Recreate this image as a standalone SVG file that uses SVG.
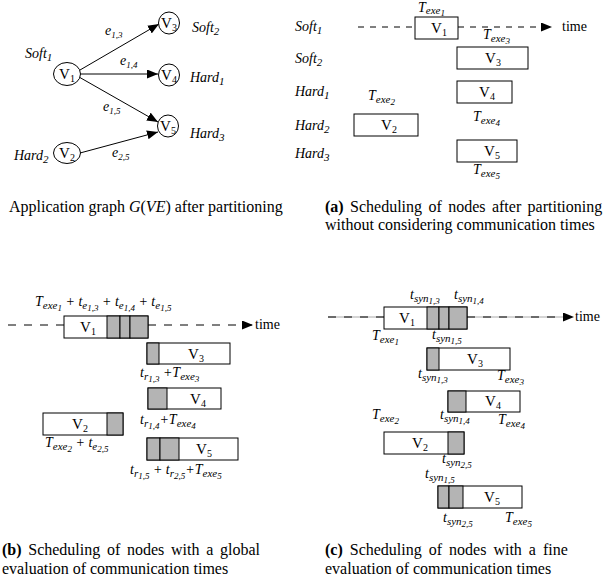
<svg xmlns="http://www.w3.org/2000/svg" width="603" height="588" viewBox="0 0 603 588">
<style>
text{font-family:"Liberation Serif","Times New Roman",serif;fill:#000}
.l{font-style:italic;font-size:14px}
.s{font-size:11px}
.ss{font-size:9px}
.v{font-size:15px;text-anchor:middle}
.vs{font-size:10px}
.cap{font-size:16px}
.tm{font-size:14px}
.b{font-weight:bold}
.nd{fill:#fff;stroke:#000;stroke-width:1}
.bx{fill:#fff;stroke:#000;stroke-width:1}
.gr{fill:#b4b4b4;stroke:#000;stroke-width:1}
.ed{stroke:#000;stroke-width:1;fill:none}
.da{stroke:#000;stroke-width:1;fill:none;stroke-dasharray:6 6}
.db{stroke:#000;stroke-width:1;fill:none;stroke-dasharray:8 8}
.gl{stroke:#aaa;stroke-width:1;fill:none}
</style>
<defs>
<marker id="ah" viewBox="0 0 11 9" refX="11" refY="4.5" markerWidth="11" markerHeight="9" markerUnits="userSpaceOnUse" orient="auto"><path d="M0,0L11,4.5L0,9z" fill="#000"/></marker>
</defs>

<!-- Application graph -->
<g id="connectors">
<line class="ed" x1="80" y1="70" x2="159" y2="24" marker-end="url(#ah)"/>
<line class="ed" x1="80" y1="74" x2="158" y2="74" marker-end="url(#ah)"/>
<line class="ed" x1="79" y1="77" x2="158" y2="122" marker-end="url(#ah)"/>
<line class="ed" x1="80" y1="153" x2="158" y2="132" marker-end="url(#ah)"/>
<text class="l" x="105" y="35">e<tspan class="ss" dy="3">1,3</tspan></text>
<text class="l" x="120" y="65">e<tspan class="ss" dy="3">1,4</tspan></text>
<text class="l" x="103" y="111">e<tspan class="ss" dy="3">1,5</tspan></text>
<text class="l" x="112" y="157">e<tspan class="ss" dy="3">2,5</tspan></text>
</g>
<g id="nV1"><ellipse class="nd" cx="67" cy="74" rx="13.5" ry="11.5"/><text class="v" x="67" y="79">V<tspan class="vs" dy="3">1</tspan></text><text class="l" x="25" y="58">Soft<tspan class="s" dy="3">1</tspan></text></g>
<g id="nV2"><ellipse class="nd" cx="67" cy="153" rx="13.5" ry="10.5"/><text class="v" x="67" y="158">V<tspan class="vs" dy="3">2</tspan></text><text class="l" x="14" y="160">Hard<tspan class="s" dy="3">2</tspan></text></g>
<g id="nV3"><ellipse class="nd" cx="169" cy="23" rx="10.5" ry="11"/><text class="v" x="169" y="28">V<tspan class="vs" dy="3">3</tspan></text><text class="l" x="192" y="32">Soft<tspan class="s" dy="3">2</tspan></text></g>
<g id="nV4"><ellipse class="nd" cx="169" cy="75" rx="10.5" ry="11"/><text class="v" x="169" y="80">V<tspan class="vs" dy="3">4</tspan></text><text class="l" x="190" y="82">Hard<tspan class="s" dy="3">1</tspan></text></g>
<g id="nV5"><ellipse class="nd" cx="168" cy="126" rx="10.5" ry="11"/><text class="v" x="168" y="131">V<tspan class="vs" dy="3">5</tspan></text><text class="l" x="190" y="138">Hard<tspan class="s" dy="3">3</tspan></text></g>
<text class="cap" x="9" y="212">Application graph <tspan font-style="italic">G</tspan>(<tspan font-style="italic">VE</tspan>) after partitioning</text>

<!-- Panel (a) -->
<g id="panelA">
<text class="l" x="295" y="31">Soft<tspan class="s" dy="3">1</tspan></text>
<text class="l" x="295" y="63">Soft<tspan class="s" dy="3">2</tspan></text>
<text class="l" x="295" y="96">Hard<tspan class="s" dy="3">1</tspan></text>
<text class="l" x="295" y="130">Hard<tspan class="s" dy="3">2</tspan></text>
<text class="l" x="295" y="158">Hard<tspan class="s" dy="3">3</tspan></text>
<line class="da" x1="358" y1="27" x2="415" y2="27"/>
<line class="da" x1="458" y1="27" x2="552" y2="27" marker-end="url(#ah)"/>
<text class="tm" x="562" y="31">time</text>
<g id="aV1"><rect class="bx" x="415" y="17" width="43" height="22"/><text class="v" x="439" y="33">V<tspan class="vs" dy="3">1</tspan></text><text class="l" x="418" y="11.5">T<tspan class="s" dy="2.5">exe</tspan><tspan class="ss" dy="1.5">1</tspan></text></g>
<g id="aV3"><rect class="bx" x="457" y="47" width="71" height="22"/><text class="v" x="493" y="63">V<tspan class="vs" dy="3">3</tspan></text><text class="l" x="483" y="39">T<tspan class="s" dy="3">exe</tspan><tspan class="ss" dy="2">3</tspan></text></g>
<g id="aV4"><rect class="bx" x="457" y="81" width="55" height="22"/><text class="v" x="487" y="97">V<tspan class="vs" dy="3">4</tspan></text><text class="l" x="473" y="121">T<tspan class="s" dy="3">exe</tspan><tspan class="ss" dy="2">4</tspan></text></g>
<g id="aV2"><rect class="bx" x="354" y="114" width="64" height="22"/><text class="v" x="389" y="130">V<tspan class="vs" dy="3">2</tspan></text><text class="l" x="368" y="100">T<tspan class="s" dy="3">exe</tspan><tspan class="ss" dy="2">2</tspan></text></g>
<g id="aV5"><rect class="bx" x="457" y="140" width="60" height="22"/><text class="v" x="492" y="156">V<tspan class="vs" dy="3">5</tspan></text><text class="l" x="473" y="174">T<tspan class="s" dy="3">exe</tspan><tspan class="ss" dy="2">5</tspan></text></g>
<text class="cap" x="325" y="212" word-spacing="2.4"><tspan class="b">(a)</tspan> Scheduling of nodes after partitioning</text>
<text class="cap" x="325" y="230">without considering communication times</text>
</g>

<!-- Panel (b) -->
<g id="panelB">
<text class="l" x="35" y="306">T<tspan class="s" dy="3">exe</tspan><tspan class="ss" dy="2">1</tspan><tspan dy="-5"> + t</tspan><tspan class="s" dy="3">e</tspan><tspan class="ss" dy="2">1,3</tspan><tspan dy="-5"> + t</tspan><tspan class="s" dy="3">e</tspan><tspan class="ss" dy="2">1,4</tspan><tspan dy="-5"> + t</tspan><tspan class="s" dy="3">e</tspan><tspan class="ss" dy="2">1,5</tspan></text>
<line class="db" x1="8" y1="325" x2="64" y2="325"/>
<line class="db" x1="148" y1="325" x2="253" y2="325" marker-end="url(#ah)"/>
<text class="tm" x="255" y="329">time</text>
<g id="bV1"><rect class="bx" x="64" y="316" width="84" height="22"/><rect class="gr" x="107" y="316" width="13" height="22"/><rect class="gr" x="120" y="316" width="10" height="22"/><rect class="gr" x="130" y="316" width="18" height="22"/><text class="v" x="88" y="332">V<tspan class="vs" dy="3">1</tspan></text></g>
<g id="bV3"><rect class="bx" x="147" y="343" width="83" height="21"/><rect class="gr" x="147" y="343" width="12" height="21"/><text class="v" x="196" y="359">V<tspan class="vs" dy="3">3</tspan></text><text class="l" x="140" y="377">t<tspan class="s" dy="3">r</tspan><tspan class="ss" dy="2">1,3</tspan><tspan dy="-5"> +T</tspan><tspan class="s" dy="3">exe</tspan><tspan class="ss" dy="2">3</tspan></text></g>
<g id="bV4"><rect class="bx" x="148" y="388" width="73" height="21"/><rect class="gr" x="148" y="388" width="19" height="21"/><text class="v" x="198" y="404">V<tspan class="vs" dy="3">4</tspan></text><text class="l" x="140" y="424">t<tspan class="s" dy="3">r</tspan><tspan class="ss" dy="2">1,4</tspan><tspan dy="-5">+T</tspan><tspan class="s" dy="3">exe</tspan><tspan class="ss" dy="2">4</tspan></text></g>
<g id="bV2"><rect class="bx" x="43" y="413" width="80" height="22"/><rect class="gr" x="107" y="413" width="16" height="22"/><text class="v" x="80" y="429">V<tspan class="vs" dy="3">2</tspan></text><text class="l" x="45" y="447">T<tspan class="s" dy="3">exe</tspan><tspan class="ss" dy="2">2</tspan><tspan dy="-5"> + t</tspan><tspan class="s" dy="3">e</tspan><tspan class="ss" dy="2">2,5</tspan></text></g>
<g id="bV5"><rect class="bx" x="147" y="438" width="91" height="22"/><rect class="gr" x="147" y="438" width="13" height="22"/><rect class="gr" x="160" y="438" width="19" height="22"/><text class="v" x="204" y="454">V<tspan class="vs" dy="3">5</tspan></text><text class="l" x="130" y="474">t<tspan class="s" dy="3">r</tspan><tspan class="ss" dy="2">1,5</tspan><tspan dy="-5"> + t</tspan><tspan class="s" dy="3">r</tspan><tspan class="ss" dy="2">2,5</tspan><tspan dy="-5">+T</tspan><tspan class="s" dy="3">exe</tspan><tspan class="ss" dy="2">5</tspan></text></g>
<text class="cap" x="2" y="555" word-spacing="2.7"><tspan class="b">(b)</tspan> Scheduling of nodes with a global</text>
<text class="cap" x="2" y="574">evaluation of communication times</text>
</g>

<!-- Panel (c) -->
<g id="panelC">
<line class="gl" x1="328" y1="317" x2="567" y2="317"/>
<line class="db" x1="328" y1="317" x2="384" y2="317"/>
<line class="db" x1="467" y1="317" x2="574" y2="317" marker-end="url(#ah)"/>
<text class="tm" x="575" y="321">time</text>
<g id="cV1"><rect class="bx" x="384" y="307" width="83" height="22"/><rect class="gr" x="427" y="307" width="12" height="22"/><rect class="gr" x="439" y="307" width="10" height="22"/><rect class="gr" x="449" y="307" width="18" height="22"/><text class="v" x="407" y="323">V<tspan class="vs" dy="3">1</tspan></text>
<text class="l" x="410" y="299">t<tspan class="s" dy="3">syn</tspan><tspan class="ss" dy="2">1,3</tspan></text>
<text class="l" x="454" y="299">t<tspan class="s" dy="3">syn</tspan><tspan class="ss" dy="2">1,4</tspan></text>
<text class="l" x="372" y="340">T<tspan class="s" dy="3">exe</tspan><tspan class="ss" dy="2">1</tspan></text>
<text class="l" x="432" y="339">t<tspan class="s" dy="3">syn</tspan><tspan class="ss" dy="2">1,5</tspan></text></g>
<g id="cV3"><rect class="bx" x="427" y="348" width="83" height="22"/><rect class="gr" x="427" y="348" width="12" height="22"/><text class="v" x="475" y="364">V<tspan class="vs" dy="3">3</tspan></text>
<text class="l" x="418" y="378">t<tspan class="s" dy="3">syn</tspan><tspan class="ss" dy="2">1,3</tspan></text>
<text class="l" x="497" y="380">T<tspan class="s" dy="3">exe</tspan><tspan class="ss" dy="2">3</tspan></text></g>
<g id="cV4"><rect class="bx" x="448" y="391" width="72" height="21"/><rect class="gr" x="448" y="391" width="18" height="21"/><text class="v" x="493" y="406">V<tspan class="vs" dy="3">4</tspan></text>
<text class="l" x="440" y="419">t<tspan class="s" dy="3">syn</tspan><tspan class="ss" dy="2">1,4</tspan></text>
<text class="l" x="498" y="424">T<tspan class="s" dy="3">exe</tspan><tspan class="ss" dy="2">4</tspan></text></g>
<g id="cV2"><rect class="bx" x="384" y="432" width="80" height="22"/><rect class="gr" x="448" y="432" width="16" height="22"/><text class="v" x="420" y="448">V<tspan class="vs" dy="3">2</tspan></text>
<text class="l" x="372" y="419">T<tspan class="s" dy="3">exe</tspan><tspan class="ss" dy="2">2</tspan></text>
<text class="l" x="442" y="463">t<tspan class="s" dy="3">syn</tspan><tspan class="ss" dy="2">2,5</tspan></text></g>
<g id="cV5"><rect class="bx" x="438" y="486" width="84" height="22"/><rect class="gr" x="438" y="486" width="11" height="22"/><rect class="gr" x="449" y="486" width="14" height="22"/><text class="v" x="492" y="502">V<tspan class="vs" dy="3">5</tspan></text>
<text class="l" x="425" y="478">t<tspan class="s" dy="3">syn</tspan><tspan class="ss" dy="2">1,5</tspan></text>
<text class="l" x="443" y="522">t<tspan class="s" dy="3">syn</tspan><tspan class="ss" dy="2">2,5</tspan></text>
<text class="l" x="505" y="522">T<tspan class="s" dy="3">exe</tspan><tspan class="ss" dy="2">5</tspan></text></g>
<text class="cap" x="325" y="555" word-spacing="3"><tspan class="b">(c)</tspan> Scheduling of nodes with a fine</text>
<text class="cap" x="325" y="574">evaluation of communication times</text>
</g>
</svg>
